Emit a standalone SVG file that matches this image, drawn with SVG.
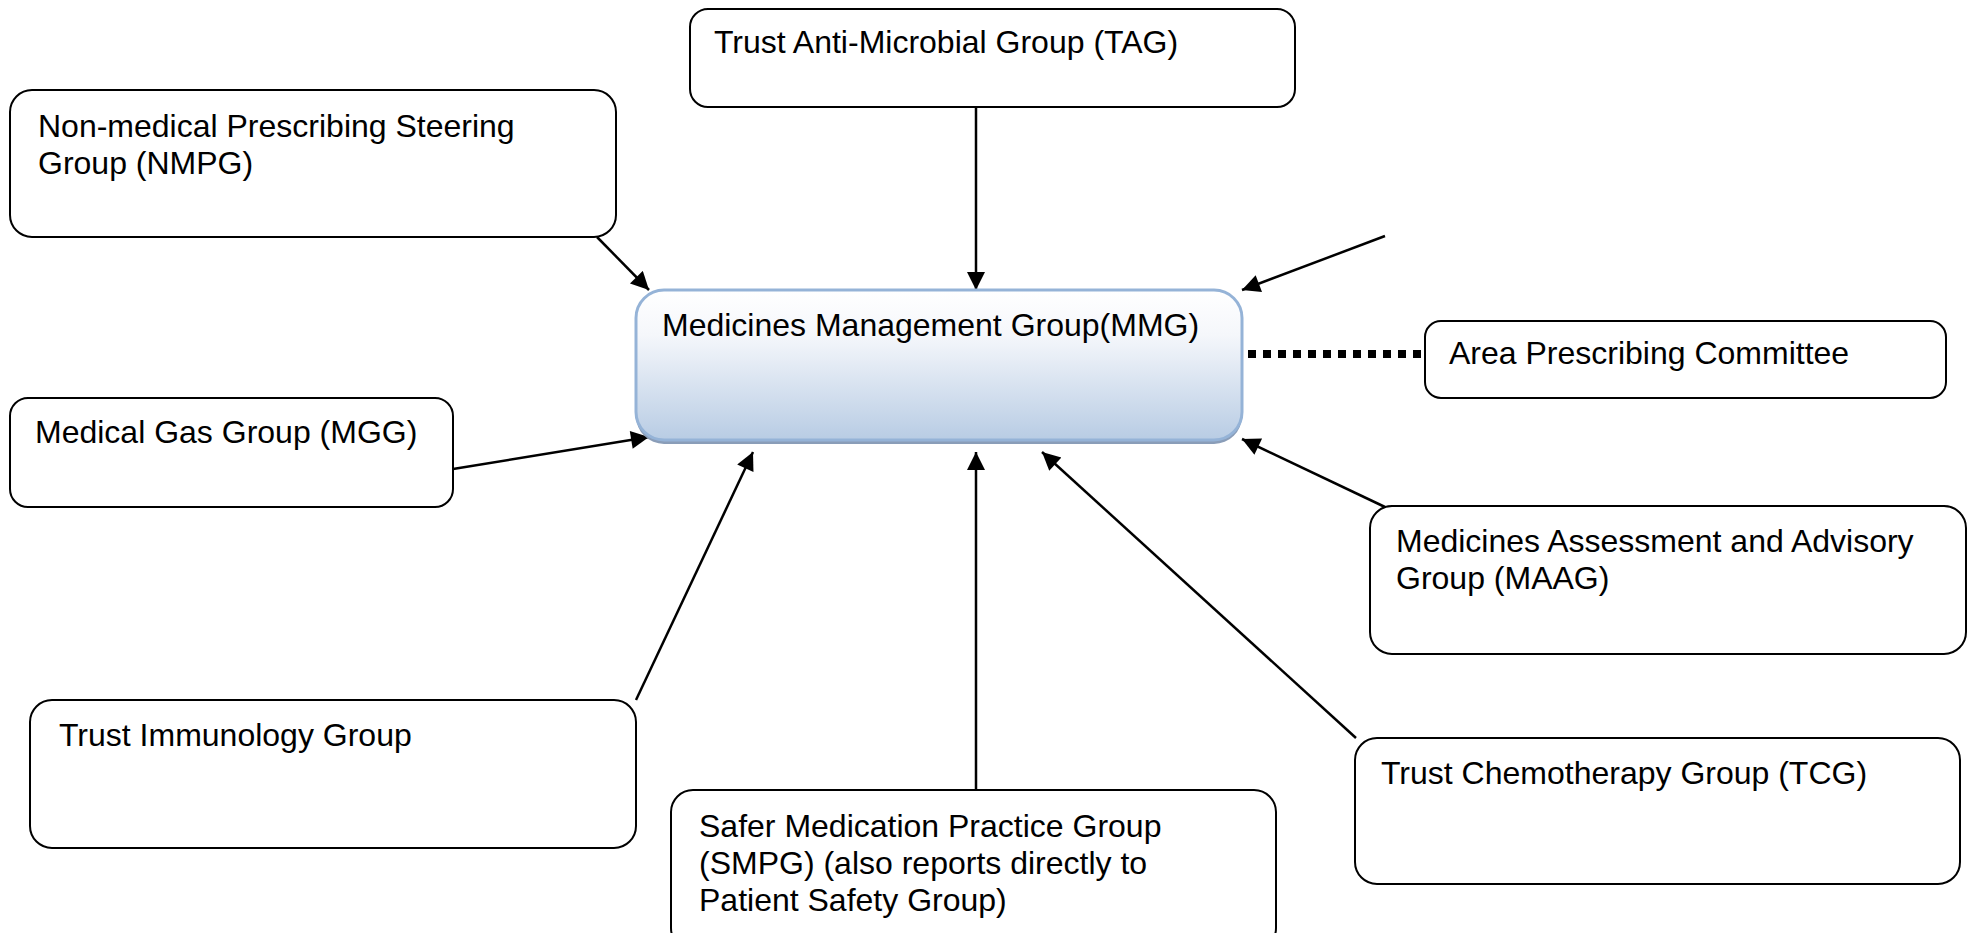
<svg xmlns="http://www.w3.org/2000/svg" width="1967" height="933" viewBox="0 0 1967 933">
  <style>
    .box { fill: #ffffff; stroke: #000000; stroke-width: 2; }
    .lbl { font-family: "Liberation Sans", Arial, sans-serif; font-size: 32px; fill: #000000; }
    .con { stroke: #000000; stroke-width: 2.5; fill: none; }
  </style>
  <defs>
    <marker id="arr" viewBox="0 0 10 10" refX="10" refY="5" markerUnits="userSpaceOnUse" markerWidth="20" markerHeight="18" orient="auto">
      <path d="M0,0 L10,5 L0,10 Z" fill="#000000"/>
    </marker>
    <linearGradient id="mmgGrad" x1="0" y1="0" x2="0" y2="1">
      <stop offset="0" stop-color="#ffffff"/>
      <stop offset="0.3" stop-color="#f5f7fb"/>
      <stop offset="1" stop-color="#b8cce4"/>
    </linearGradient>
  </defs>
  <rect width="1967" height="933" fill="#ffffff"/>

  <g id="connectors">
    <line class="con" x1="976" y1="107" x2="976" y2="290" marker-end="url(#arr)"/>
    <line class="con" x1="597" y1="237" x2="649" y2="290" marker-end="url(#arr)"/>
    <line class="con" x1="1385" y1="236" x2="1242" y2="290" marker-end="url(#arr)"/>
    <line x1="1248" y1="354" x2="1425" y2="354" stroke="#000000" stroke-width="8" stroke-dasharray="8 7"/>
    <line class="con" x1="453" y1="469" x2="649" y2="437" marker-end="url(#arr)"/>
    <line class="con" x1="636" y1="700" x2="753" y2="452" marker-end="url(#arr)"/>
    <line class="con" x1="976" y1="790" x2="976" y2="452" marker-end="url(#arr)"/>
    <line class="con" x1="1356" y1="738" x2="1042" y2="452" marker-end="url(#arr)"/>
    <line class="con" x1="1385" y1="507" x2="1242" y2="439" marker-end="url(#arr)"/>
  </g>

  <g id="tag">
    <rect class="box" x="690" y="9" width="605" height="98" rx="18"/>
    <text class="lbl" x="714" y="53">Trust Anti-Microbial Group (TAG)</text>
  </g>

  <g id="nmpg">
    <rect class="box" x="10" y="90" width="606" height="147" rx="22"/>
    <text class="lbl" x="38" y="137">Non-medical Prescribing Steering</text>
    <text class="lbl" x="38" y="174">Group (NMPG)</text>
  </g>

  <g id="mmg">
    <rect x="636" y="294" width="606" height="150" rx="28" fill="#8a9db8"/>
    <rect x="636" y="290" width="606" height="150" rx="28" fill="url(#mmgGrad)" stroke="#95b3d7" stroke-width="3"/>
    <text class="lbl" x="662" y="336">Medicines Management Group(MMG)</text>
  </g>

  <g id="apc">
    <rect class="box" x="1425" y="321" width="521" height="77" rx="16"/>
    <text class="lbl" x="1449" y="364">Area Prescribing Committee</text>
  </g>

  <g id="mgg">
    <rect class="box" x="10" y="398" width="443" height="109" rx="18"/>
    <text class="lbl" x="35" y="443">Medical Gas Group (MGG)</text>
  </g>

  <g id="maag">
    <rect class="box" x="1370" y="506" width="596" height="148" rx="22"/>
    <text class="lbl" x="1396" y="552">Medicines Assessment and Advisory</text>
    <text class="lbl" x="1396" y="589">Group (MAAG)</text>
  </g>

  <g id="immunology">
    <rect class="box" x="30" y="700" width="606" height="148" rx="22"/>
    <text class="lbl" x="59" y="746">Trust Immunology Group</text>
  </g>

  <g id="smpg">
    <rect class="box" x="671" y="790" width="605" height="160" rx="22"/>
    <text class="lbl" x="699" y="837">Safer Medication Practice Group</text>
    <text class="lbl" x="699" y="874">(SMPG) (also reports directly to</text>
    <text class="lbl" x="699" y="911">Patient Safety Group)</text>
  </g>

  <g id="tcg">
    <rect class="box" x="1355" y="738" width="605" height="146" rx="22"/>
    <text class="lbl" x="1381" y="784">Trust Chemotherapy Group (TCG)</text>
  </g>
</svg>
